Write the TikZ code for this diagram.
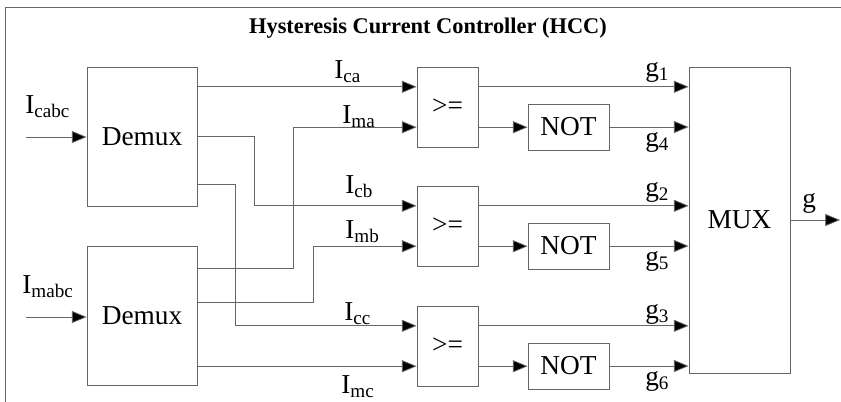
\documentclass[tikz,border=0pt]{standalone}
\usepackage{fontspec}
\setmainfont{Liberation Serif}
\usetikzlibrary{arrows.meta,calc}
\newcommand\mysub[2]{#1\textsubscript{#2}}
\begin{document}
\begin{tikzpicture}[x=0.75pt,y=-0.75pt,
  ln/.style={draw=black!60,line width=0.6pt},
  arr/.style={ln,-{Triangle[length=11pt,width=9pt,fill=black]}},
  blk/.style={ln,rectangle,inner sep=0pt,font=\fontsize{20.5pt}{24pt}\selectfont},
  lab/.style={anchor=base west,inner sep=0pt,font=\fontsize{20.5pt}{24pt}\selectfont},
  ttl/.style={inner sep=0pt,font=\fontsize{16.8pt}{20pt}\selectfont\bfseries}]
\useasboundingbox (0,0) rectangle (841,401);
% frame (only top and left edges visible)
\coordinate (ftl) at (5,7);
\coordinate (ftr) at (845,7);
\coordinate (fbl) at (5,405);
\draw[ln] (fbl) -- (ftl) -- (ftr);
\node[ttl] (title) at (428,28) {Hysteresis Current Controller (HCC)};
% blocks
\node[blk,minimum width=82.5pt,minimum height=104.25pt] (d1) at (142,136.5) {Demux};
\node[blk,minimum width=82.5pt,minimum height=104.25pt] (d2) at (142,315.5) {Demux};
\node[blk,minimum width=45.75pt,minimum height=60pt] (c1) at (447.5,107) {>=};
\node[blk,minimum width=45.75pt,minimum height=60pt] (c2) at (447.5,226) {>=};
\node[blk,minimum width=45.75pt,minimum height=60pt] (c3) at (447.5,346) {>=};
\node[blk,minimum width=60.75pt,minimum height=34.5pt] (n1) at (568.5,127) {NOT};
\node[blk,minimum width=60.75pt,minimum height=34.5pt] (n2) at (568.5,246) {NOT};
\node[blk,minimum width=60.75pt,minimum height=34.5pt] (n3) at (568.5,366) {NOT};
\node[blk,minimum width=75.75pt,minimum height=229.5pt] (mux) at (739.5,220) {MUX};
% comparator inputs
\foreach \c in {c1,c2,c3}{
  \coordinate (\c a) at ($(\c.north west)!0.25!(\c.south west)$);
  \coordinate (\c b) at ($(\c.north west)!0.75!(\c.south west)$);
}
% inputs
\coordinate (inc) at (26,137);
\coordinate (inm) at (26,317);
\draw[arr] (inc) -- (inc -| d1.west);
\draw[arr] (inm) -- (inm -| d2.west);
\node[lab] (lcabc) at (25,113) {\mysub{I}{cabc}};
\node[lab] (lmabc) at (22,293) {\mysub{I}{mabc}};
% demux 1 outputs
\draw[arr] (d1.east |- c1a) -- (c1a);
\draw[arr] (d1.east) -- ++(57,0) |- (c2a);
\coordinate (d1o3) at (197,184);
\draw[arr] (d1o3) -- ++(38,0) |- (c3a);
% demux 2 outputs
\coordinate (d2o1) at (197,268);
\coordinate (d2o2) at (197,302);
\draw[arr] (d2o1) -- ++(96,0) |- (c1b);
\draw[arr] (d2o2) -- ++(116,0) |- (c2b);
\draw[arr] (d2.east |- c3b) -- (c3b);
% current labels
\node[lab] (lca) at (334,78) {\mysub{I}{ca}};
\node[lab] (lma) at (342,123) {\mysub{I}{ma}};
\node[lab] (lcb) at (345,193) {\mysub{I}{cb}};
\node[lab] (lmb) at (345,238) {\mysub{I}{mb}};
\node[lab] (lcc) at (344,320) {\mysub{I}{cc}};
\node[lab] (lmc) at (341,393) {\mysub{I}{mc}};
% comparator outputs
\foreach \i in {1,2,3}{
  \draw[arr] (c\i.east |- c\i a) -- (mux.west |- c\i a);
  \draw[arr] (c\i.east |- c\i b) -- (n\i.west |- c\i b);
  \draw[arr] (n\i.east) -- (mux.west |- n\i.east);
}
% g labels
\node[lab] (g1) at (645,76) {\mysub{g}{1}};
\node[lab] (g4) at (645,146) {\mysub{g}{4}};
\node[lab] (g2) at (645,196) {\mysub{g}{2}};
\node[lab] (g5) at (645,265) {\mysub{g}{5}};
\node[lab] (g3) at (645,318) {\mysub{g}{3}};
\node[lab] (g6) at (645,385) {\mysub{g}{6}};
% output
\coordinate (gout) at (840,220);
\draw[arr] (mux.east) -- (gout);
\node[lab] (g) at (802,207) {g};
\end{tikzpicture}
\end{document}
